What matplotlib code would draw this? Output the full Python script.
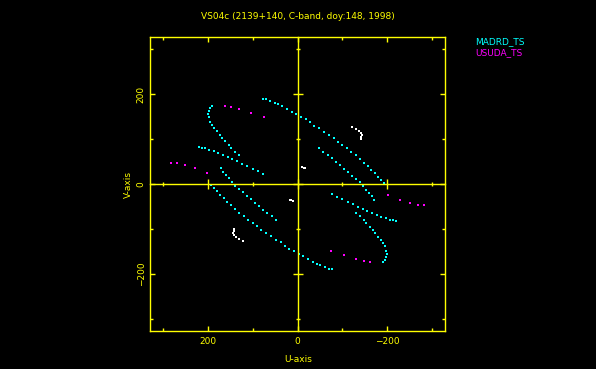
import numpy as np
import matplotlib.pyplot as plt
from matplotlib.ticker import MultipleLocator

# uv points (one half only, the other half is the
# conjugate -u, -v which the plot shows as well)
madrd_u = [78, 70, 61, 51, 43, 34, 24, 13, 3, -7, -18, -28, -38, -49, -60,
           -70, -81, -91, -100, -110, -119, -130, -139, -148, -157, -165,
           -173, -180, -187, -194,
           -48, -57, -68, -77, -87, -95, -104, -113, -122, -130, -139, -146,
           -154, -161, -167, -172,
           -78, -89, -100, -112, -124, -135, -146, -156, -167, -177, -187,
           -197, -206, -213, -221,
           -130, -139, -148, -154, -162, -168, -174, -180, -186, -191, -195,
           -197, -200, -199, -196, -192]
madrd_v = [190, 188, 184, 181, 177, 173, 167, 161, 156, 150, 144, 137, 130,
           124, 116, 109, 102, 93, 87, 79, 71, 64, 56, 47, 39, 31, 24, 16, 9, 2,
           79, 71, 65, 57, 49, 42, 33, 27, 18, 11, 4, -4, -13, -20, -27, -36,
           -22, -28, -34, -39, -45, -51, -56, -61, -65, -70, -73, -76, -79,
           -81, -83,
           -64, -71, -79, -87, -96, -102, -110, -118, -124, -132, -139, -148,
           -156, -162, -168, -173]

usuda_u = [163, 149, 130, 105, 76, -202, -230, -252, -269, -282]
usuda_v = [174, 172, 167, 159, 148, -25, -36, -42, -47, -47]

other_u = [-123, -131, -138, -142, -144, -143, -142, -11, -14, -16]
other_v = [126, 122, 117, 113, 108, 104, 99, 37, 36, 36]

title = "VS04c (2139+140, C-band, doy:148, 1998)"
stations = ["MADRD_TS", "USUDA_TS"]
colors = ["#00ffff", "#ff00ff"]
yel = "#ffff00"

fig = plt.figure(figsize=(5.96, 3.69), dpi=100, facecolor="black")
pos = [150 / 596, 1 - 331 / 369, 295 / 596, 294 / 369]
ax = fig.add_axes(pos, facecolor="black")

for uu, vv, c in [(madrd_u, madrd_v, colors[0]),
                  (usuda_u, usuda_v, colors[1]),
                  (other_u, other_v, "white")]:
    uu = np.array(uu)
    vv = np.array(vv)
    ax.scatter(np.concatenate([uu, -uu]), np.concatenate([vv, -vv]),
               s=1.5, marker="s", c=c, linewidths=0)

ax.set_xlim(330, -330)
ax.set_ylim(-327, 327)

for sp in ax.spines.values():
    sp.set_color(yel)
    sp.set_linewidth(1.0)
for a in (ax.xaxis, ax.yaxis):
    a.set_major_locator(MultipleLocator(200))
    a.set_minor_locator(MultipleLocator(100))
ax.tick_params(which="both", direction="in", top=True, right=True,
               color=yel, labelcolor=yel, labelsize=6.5, width=1.0)
ax.tick_params(which="major", length=3.6)
ax.tick_params(which="minor", length=2.0)
ax.tick_params(axis="x", pad=4)
ax.tick_params(axis="y", pad=3)
for lab in ax.get_yticklabels():
    lab.set_rotation(90)
    lab.set_va("center")

# axes through the origin, with their own ticks
ax2 = fig.add_axes(pos, sharex=ax, sharey=ax)
ax2.patch.set_visible(False)
ax2.spines["top"].set_visible(False)
ax2.spines["right"].set_visible(False)
ax2.spines["left"].set_position(("data", 0))
ax2.spines["bottom"].set_position(("data", 0))
for sp in ("left", "bottom"):
    ax2.spines[sp].set_color(yel)
    ax2.spines[sp].set_linewidth(1.0)
ax2.tick_params(which="both", direction="inout", color=yel, width=1.0,
                labelleft=False, labelbottom=False)
ax2.tick_params(which="major", length=6.5)
ax2.tick_params(which="minor", length=3.5)

fig.text(298 / 596, 1 - 16.5 / 369, title, color=yel, fontsize=6.5,
         ha="center", va="center")
fig.text(298 / 596, 1 - 359 / 369, "U-axis", color=yel, fontsize=6.5,
         ha="center", va="center")
fig.text(128 / 596, 1 - 185 / 369, "V-axis", color=yel, fontsize=6.5,
         ha="center", va="center", rotation=90)
for i, (name, c) in enumerate(zip(stations, colors)):
    fig.text(475 / 596, 1 - (42 + 10.3 * i) / 369, name, color=c,
             fontsize=6.5, ha="left", va="center")

fig.savefig("out.png", dpi=100, facecolor="black")
